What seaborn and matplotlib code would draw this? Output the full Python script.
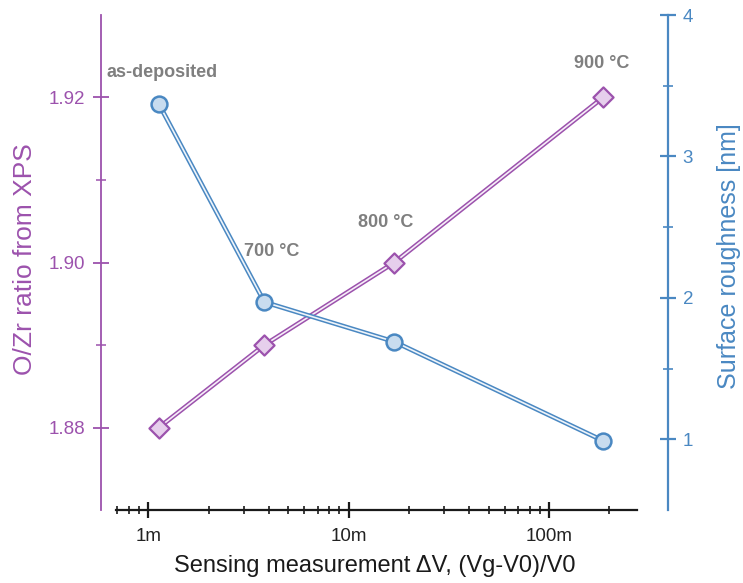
import matplotlib
matplotlib.use('Agg')
import matplotlib.pyplot as plt
import matplotlib.patheffects as pe
from matplotlib.ticker import FixedLocator, FixedFormatter, LogLocator, NullFormatter, FormatStrFormatter
import seaborn as sns
import pandas as pd

# values
sensing = [1.13e-3, 3.8e-3, 16.9e-3, 186e-3]       # (Vg-V0)/V0
ozr_ratio = [1.880, 1.890, 1.900, 1.920]           # O/Zr from XPS
roughness = [3.37, 1.97, 1.69, 0.99]               # nm
conditions = ['as-deposited', '700 °C', '800 °C', '900 °C']
x_ticks = [1e-3, 1e-2, 1e-1]
x_tick_labels = ['1m', '10m', '100m']
ozr_ticks = [1.88, 1.90, 1.92]
rough_ticks = [1, 2, 3, 4]

PURPLE = '#9C52AD'
PURPLE_FILL = '#E6CFEC'
BLUE = '#4A88C2'
BLUE_FILL = '#C8DCEF'
GREY = '#7F7F7F'

df = pd.DataFrame({'sensing': sensing, 'ozr': ozr_ratio,
                   'rough': roughness, 'cond': conditions})

sns.set_style('white')
plt.rcParams['font.family'] = ['Liberation Sans', 'DejaVu Sans']

fig = plt.figure(figsize=(7.43, 5.83), dpi=100)
ax = fig.add_axes([116 / 743, 1 - 510 / 583, 521 / 743, 495 / 583])
ax2 = ax.twinx()

ax.set_xscale('log')
ax.set_xlim(0.69e-3, 0.275)
ax.set_ylim(1.87, 1.93)
ax2.set_ylim(0.5, 4.0)

# double lines: coloured stroke with a light core
def double_line(col):
    return [pe.Stroke(linewidth=3.4, foreground=col), pe.Normal()]

sns.lineplot(data=df, x='sensing', y='ozr', ax=ax, color='#F6EEF8',
             linewidth=1.2, path_effects=double_line(PURPLE), zorder=2)
sns.scatterplot(data=df, x='sensing', y='ozr', ax=ax, marker='D', s=105,
                color=PURPLE_FILL, edgecolor=PURPLE, linewidth=1.6, zorder=3)

sns.lineplot(data=df, x='sensing', y='rough', ax=ax2, color='#EEF4FA',
             linewidth=1.2, path_effects=double_line(BLUE), zorder=2)
sns.scatterplot(data=df, x='sensing', y='rough', ax=ax2, marker='o', s=130,
                color=BLUE_FILL, edgecolor=BLUE, linewidth=1.8, zorder=3)

# condition labels (pixel offsets from the marker they belong to)
offsets = [(3, 32), (7, 51), (-9, 40), (-1, 34)]
on_blue = [True, True, False, False]
for i, (lab, off) in enumerate(zip(conditions, offsets)):
    if on_blue[i]:
        tgt, yv = ax2, roughness[i]
    else:
        tgt, yv = ax, ozr_ratio[i]
    tgt.annotate(lab, xy=(sensing[i], yv), xytext=off, textcoords='offset pixels',
                 ha='center', va='center', fontsize=13, fontweight='bold', color=GREY)

# spines
for s in ['top', 'right']:
    ax.spines[s].set_visible(False)
for s in ['top', 'left', 'bottom']:
    ax2.spines[s].set_visible(False)
ax.spines['left'].set_position(('outward', 10.8))
ax.spines['left'].set_color(PURPLE)
ax.spines['left'].set_linewidth(1.3)
ax.spines['bottom'].set_color('#1a1a1a')
ax.spines['bottom'].set_linewidth(1.6)
ax2.spines['right'].set_position(('outward', 22.3))
ax2.spines['right'].set_color(BLUE)
ax2.spines['right'].set_linewidth(1.6)

# x ticks
ax.xaxis.set_major_locator(FixedLocator(x_ticks))
ax.xaxis.set_major_formatter(FixedFormatter(x_tick_labels))
ax.xaxis.set_minor_locator(LogLocator(base=10, subs=range(2, 10)))
ax.xaxis.set_minor_formatter(NullFormatter())
ax.tick_params(axis='x', which='major', direction='inout', length=12, width=1.6,
               color='#1a1a1a', labelcolor='#222222', labelsize=13.5, pad=7, bottom=True)
ax.tick_params(axis='x', which='minor', direction='inout', length=5.5, width=1.2,
               color='#1a1a1a', bottom=True)

# left y ticks
ax.yaxis.set_major_locator(FixedLocator(ozr_ticks))
ax.yaxis.set_major_formatter(FormatStrFormatter('%.2f'))
ax.yaxis.set_minor_locator(FixedLocator([(a + b) / 2 for a, b in zip(ozr_ticks, ozr_ticks[1:])]))
ax.tick_params(axis='y', which='major', direction='inout', length=12, width=1.3,
               color=PURPLE, labelcolor=PURPLE, labelsize=13.5, pad=5.4, left=True)
ax.tick_params(axis='y', which='minor', direction='inout', length=6.5, width=1.1,
               color=PURPLE, left=True)

# right y ticks
ax2.yaxis.set_major_locator(FixedLocator(rough_ticks))
ax2.yaxis.set_minor_locator(FixedLocator([(a + b) / 2 for a, b in zip(rough_ticks, rough_ticks[1:])]))
ax2.tick_params(axis='y', which='major', direction='inout', length=12, width=1.6,
                color=BLUE, labelcolor=BLUE, labelsize=13.5, pad=4.7, right=True)
ax2.tick_params(axis='y', which='minor', direction='inout', length=6.5, width=1.2,
                color=BLUE, right=True)

# axis labels
ax.set_xlabel('Sensing measurement ΔV, (Vg-V0)/V0', fontsize=17, color='#1a1a1a')
ax.xaxis.set_label_coords(0.497, -0.091)
ax.set_ylabel('O/Zr ratio from XPS', fontsize=19, color=PURPLE)
ax.yaxis.set_label_coords(-0.152, 0.507)
ax2.set_ylabel('Surface roughness [nm]', fontsize=18, color=BLUE)
ax2.yaxis.set_label_coords(1.153, 0.513)

fig.savefig('out.png', dpi=100)
